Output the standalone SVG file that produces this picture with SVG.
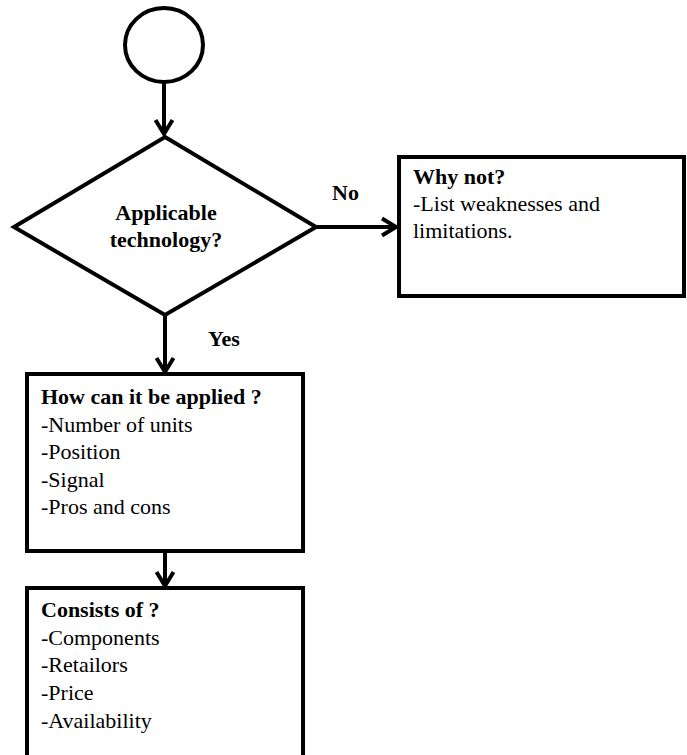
<svg xmlns="http://www.w3.org/2000/svg" width="687" height="755" viewBox="0 0 687 755">
<defs>
<style>
.shape{fill:#fff;stroke:#000;stroke-width:4}
.conn{fill:none;stroke:#000;stroke-width:4}
text{font-family:"Liberation Serif","Times New Roman",serif;font-size:22px;fill:#000}
.b{font-weight:bold}
.c{text-anchor:middle}
</style>
<marker id="arr" markerUnits="userSpaceOnUse" markerWidth="24" markerHeight="24" viewBox="-18 -12 22 24" refX="0" refY="0" orient="auto">
<path d="M-14,-8.5 L0,0 L-14,8.5" fill="none" stroke="#000" stroke-width="4"/>
</marker>
</defs>
<g id="connectors">
<line class="conn" x1="164" y1="82" x2="164" y2="134" marker-end="url(#arr)"/>
<line class="conn" x1="316" y1="227" x2="396" y2="227" marker-end="url(#arr)"/>
<line class="conn" x1="165" y1="315" x2="165" y2="372" marker-end="url(#arr)"/>
<line class="conn" x1="165" y1="551" x2="165" y2="586" marker-end="url(#arr)"/>
<text class="b" x="332" y="200">No</text>
<text class="b" x="208" y="346">Yes</text>
</g>
<g id="start">
<ellipse class="shape" cx="164" cy="45" rx="39" ry="37"/>
</g>
<g id="decision">
<polygon class="shape" points="165,137 316,227 165,315 14,227"/>
<text class="b c" x="166" y="220">Applicable</text>
<text class="b c" x="166" y="247">technology?</text>
</g>
<g id="whynot">
<rect class="shape" x="399" y="157" width="285" height="139"/>
<text class="b" x="413" y="184">Why not?</text>
<text x="413" y="211">-List weaknesses and</text>
<text x="413" y="238">limitations.</text>
</g>
<g id="how">
<rect class="shape" x="27" y="374" width="276" height="177"/>
<text class="b" x="41" y="404">How can it be applied ?</text>
<text x="41" y="432">-Number of units</text>
<text x="41" y="459">-Position</text>
<text x="41" y="487">-Signal</text>
<text x="41" y="514">-Pros and cons</text>
</g>
<g id="consists">
<rect class="shape" x="27" y="588" width="276" height="200"/>
<text class="b" x="41" y="617">Consists of ?</text>
<text x="41" y="645">-Components</text>
<text x="41" y="672">-Retailors</text>
<text x="41" y="700">-Price</text>
<text x="41" y="728">-Availability</text>
</g>
</svg>
